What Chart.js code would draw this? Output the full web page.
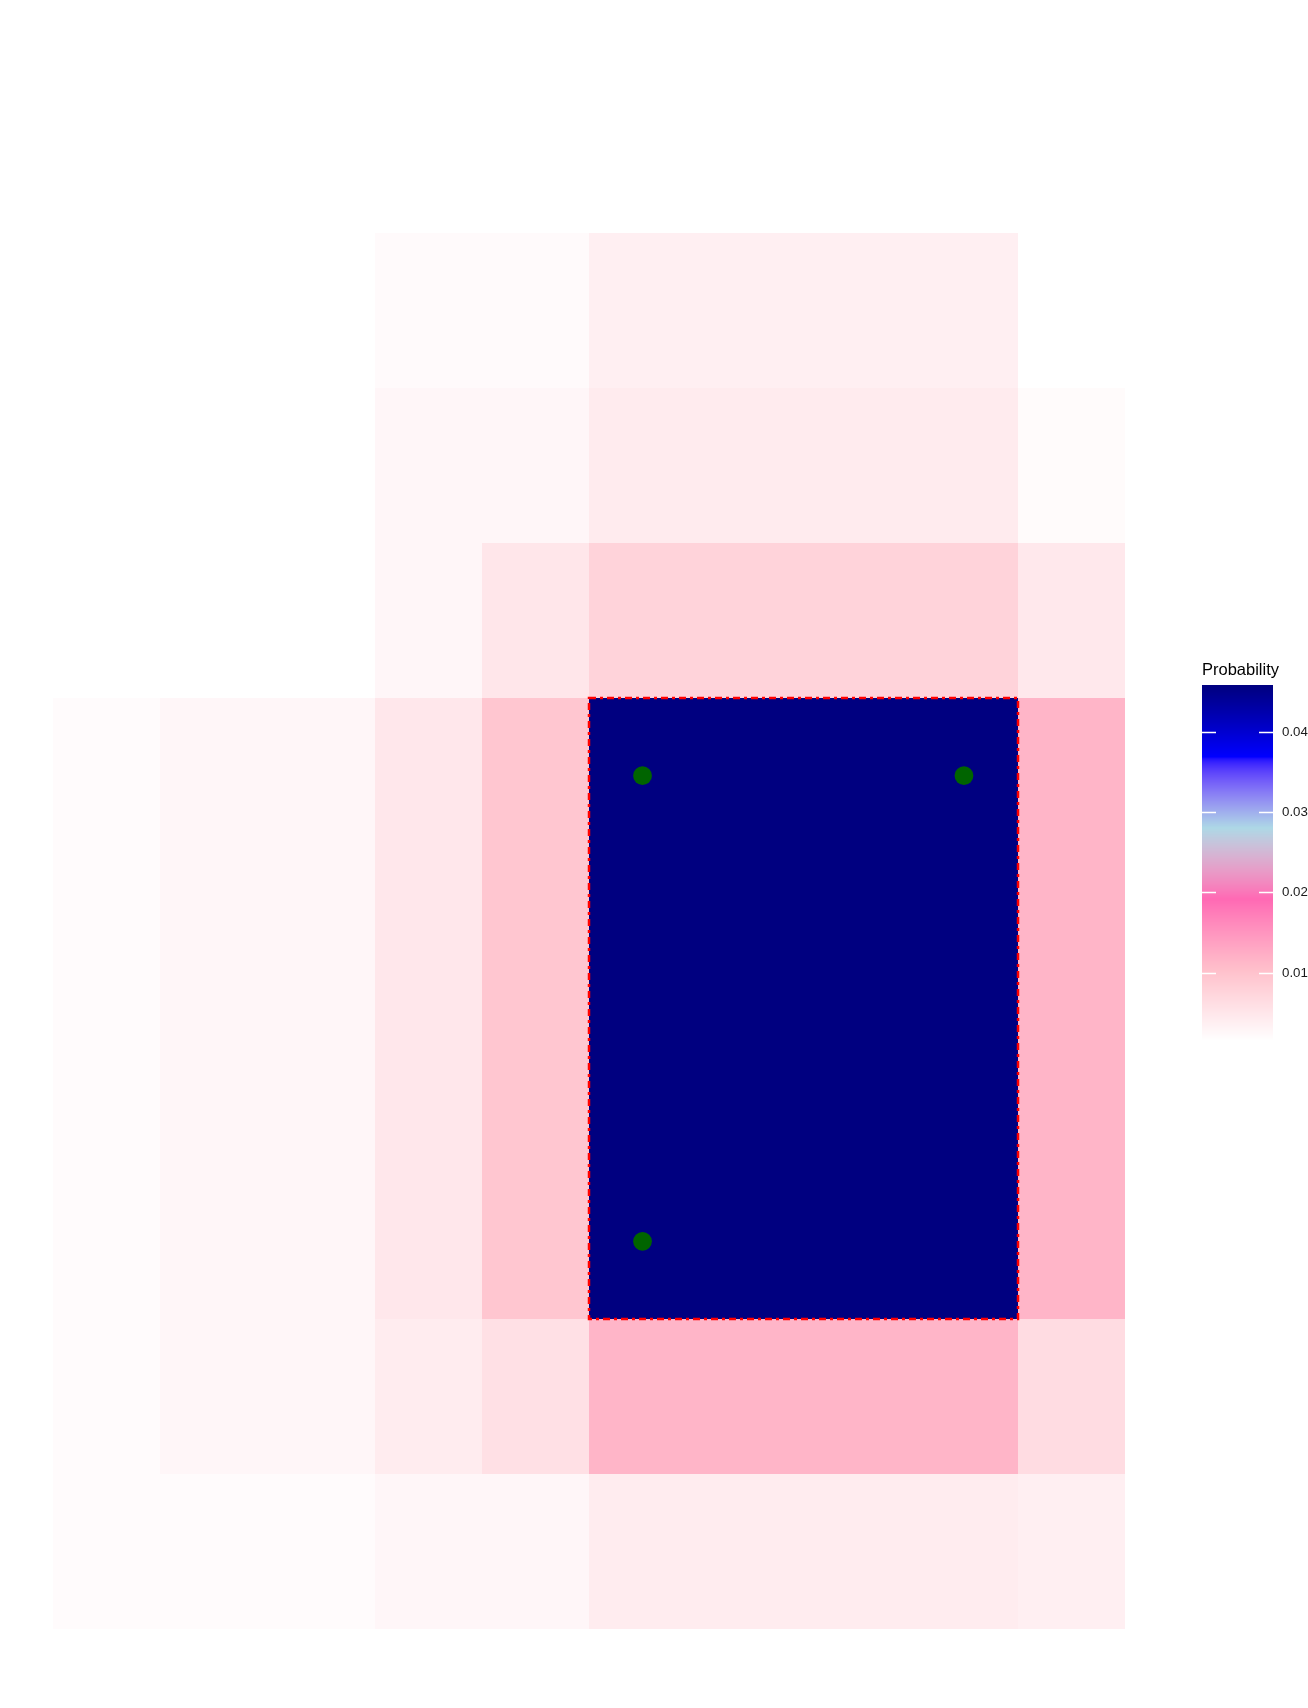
<!DOCTYPE html>
<html>
<head>
<meta charset="utf-8">
<script src="https://cdn.jsdelivr.net/npm/chart.js@4/dist/chart.umd.min.js"></script>
<style>
  html, body { margin: 0; padding: 0; background: #ffffff; }
  #wrap { width: 1308px; height: 1708px; }
</style>
</head>
<body>
<div id="wrap"><canvas id="c" width="1308" height="1708"></canvas></div>
<script>
// ---- data ----
const colEdges = [0, 1, 3, 4, 5, 9, 10];          // x bin edges
const rowEdges = [9, 8, 7, 6, 2, 1, 0];           // y bin edges, top to bottom
const probRow1 = [0.0016, 0.0016, 0.0023, 0.0023, 0.0038, 0.0016];
const probRow2 = [0.0016, 0.0016, 0.0028, 0.0028, 0.0044, 0.0022];
const probRow3 = [0.0016, 0.0016, 0.0028, 0.0051, 0.0078, 0.0048];
const probRow4 = [0.0021, 0.0028, 0.0050, 0.0096, 0.0458, 0.0117];
const probRow5 = [0.0021, 0.0028, 0.0043, 0.0059, 0.0117, 0.0065];
const probRow6 = [0.0021, 0.0021, 0.0028, 0.0028, 0.0043, 0.0038];
const probRows = [probRow1, probRow2, probRow3, probRow4, probRow5, probRow6];
const pointX = [5.5, 8.5, 5.5];
const pointY = [5.5, 5.5, 2.5];
const gradientColors = ['#FFFFFF', '#FFC0CB', '#FF69B4', '#ADD8E6', '#0000FF', '#000080'];
const legendTicks = [0.01, 0.02, 0.03, 0.04];
const legendTickLabels = ['0.01', '0.02', '0.03', '0.04'];
const legendTitle = 'Probability';

// ---- colour scale (Lab interpolation like ggplot) ----
function hexToRgb(h) { return [parseInt(h.slice(1,3),16), parseInt(h.slice(3,5),16), parseInt(h.slice(5,7),16)]; }
function srgbToLin(c) { c /= 255; return c <= 0.04045 ? c / 12.92 : Math.pow((c + 0.055) / 1.055, 2.4); }
function linToSrgb(c) { c = c <= 0.0031308 ? 12.92 * c : 1.055 * Math.pow(c, 1/2.4) - 0.055; return Math.max(0, Math.min(255, Math.round(c * 255))); }
const Xn = 0.95047, Yn = 1.0, Zn = 1.08883;
function f(t) { return t > 216/24389 ? Math.cbrt(t) : (24389/27 * t + 16) / 116; }
function finv(t) { return t*t*t > 216/24389 ? t*t*t : (116 * t - 16) / (24389/27); }
function rgbToLab(rgb) {
  const r = srgbToLin(rgb[0]), g = srgbToLin(rgb[1]), b = srgbToLin(rgb[2]);
  const X = 0.4124*r + 0.3576*g + 0.1805*b, Y = 0.2126*r + 0.7152*g + 0.0722*b, Z = 0.0193*r + 0.1192*g + 0.9505*b;
  const fx = f(X/Xn), fy = f(Y/Yn), fz = f(Z/Zn);
  return [116*fy - 16, 500*(fx - fy), 200*(fy - fz)];
}
function labToRgb(lab) {
  const fy = (lab[0] + 16) / 116, fx = fy + lab[1]/500, fz = fy - lab[2]/200;
  const X = Xn*finv(fx), Y = Yn*finv(fy), Z = Zn*finv(fz);
  const r = 3.2406*X - 1.5372*Y - 0.4986*Z, g = -0.9689*X + 1.8758*Y + 0.0415*Z, b = 0.0557*X - 0.2040*Y + 1.0570*Z;
  return [linToSrgb(r), linToSrgb(g), linToSrgb(b)];
}
const labStops = gradientColors.map(c => rgbToLab(hexToRgb(c)));
const allVals = probRows.flat().filter(v => v != null);
const vMin = Math.min(...allVals), vMax = Math.max(...allVals);
function colourFor(v) {
  let p = (v - vMin) / (vMax - vMin);
  p = Math.max(0, Math.min(1, p));
  const n = labStops.length - 1;
  let i = Math.min(n - 1, Math.floor(p * n));
  const t = p * n - i;
  const a = labStops[i], b = labStops[i + 1];
  const rgb = labToRgb([a[0] + (b[0]-a[0])*t, a[1] + (b[1]-a[1])*t, a[2] + (b[2]-a[2])*t]);
  return 'rgb(' + rgb.join(',') + ')';
}

// ---- plugins ----
const bgPlugin = {
  id: 'bg',
  beforeDraw(chart) {
    const ctx = chart.ctx;
    ctx.save(); ctx.fillStyle = '#ffffff'; ctx.fillRect(0, 0, chart.width, chart.height); ctx.restore();
  }
};

const cellsPlugin = {
  id: 'cells',
  beforeDatasetsDraw(chart) {
    const ctx = chart.ctx, xs = chart.scales.x, ys = chart.scales.y;
    ctx.save();
    let best = null;
    probRows.forEach((row, r) => {
      row.forEach((v, c) => {
        if (v == null) return;
        const x0 = Math.round(xs.getPixelForValue(colEdges[c]));
        const x1 = Math.round(xs.getPixelForValue(colEdges[c + 1]));
        const y0 = Math.round(ys.getPixelForValue(rowEdges[r]));
        const y1 = Math.round(ys.getPixelForValue(rowEdges[r + 1]));
        ctx.fillStyle = colourFor(v);
        ctx.fillRect(x0, y0, x1 - x0, y1 - y0);
        if (!best || v > best.v) best = { v, x0, x1, y0, y1 };
      });
    });
    // dashed outline of the most probable cell
    if (best) {
      ctx.strokeStyle = '#FF0000';
      ctx.lineWidth = 2.5;
      ctx.setLineDash([7, 4, 3, 4]);
      ctx.strokeRect(best.x0, best.y0, best.x1 - best.x0, best.y1 - best.y0);
      ctx.setLineDash([]);
    }
    ctx.restore();
  }
};

const colourbarPlugin = {
  id: 'colourbar',
  afterDraw(chart) {
    const ctx = chart.ctx;
    const bx = 1202, bw = 71, by = 685, bh = 355;
    ctx.save();
    const nbin = 355;
    for (let i = 0; i < nbin; i++) {
      const v = vMin + (vMax - vMin) * (i + 0.5) / nbin;
      ctx.fillStyle = colourFor(v);
      const yTop = by + bh - (i + 1) * bh / nbin;
      ctx.fillRect(bx, Math.floor(yTop), bw, Math.ceil(bh / nbin) + 1);
    }
    ctx.strokeStyle = '#ffffff';
    ctx.lineWidth = 1.3;
    ctx.fillStyle = '#1a1a1a';
    ctx.font = '13.3px "Liberation Sans", Arial, sans-serif';
    ctx.textBaseline = 'middle';
    ctx.textAlign = 'left';
    legendTicks.forEach((t, k) => {
      const y = Math.round(by + bh - (t - vMin) / (vMax - vMin) * bh) + 0.5;
      ctx.beginPath();
      ctx.moveTo(bx, y); ctx.lineTo(bx + 14, y);
      ctx.moveTo(bx + bw - 14, y); ctx.lineTo(bx + bw, y);
      ctx.stroke();
      ctx.fillText(legendTickLabels[k], 1282, y);
    });
    ctx.fillStyle = '#000000';
    ctx.font = '16.5px "Liberation Sans", Arial, sans-serif';
    ctx.textBaseline = 'alphabetic';
    ctx.fillText(legendTitle, 1202, 675);
    ctx.restore();
  }
};

new Chart(document.getElementById('c'), {
  type: 'scatter',
  data: {
    datasets: [{
      data: pointX.map((x, i) => ({ x, y: pointY[i] })),
      pointRadius: 9.4,
      pointHoverRadius: 9.4,
      backgroundColor: '#006400',
      borderColor: '#006400',
      borderWidth: 0
    }]
  },
  options: {
    responsive: false,
    animation: false,
    devicePixelRatio: 1,
    layout: { padding: { left: 53.2, right: 183.3, top: 232.5, bottom: 78.7 } },
    plugins: { legend: { display: false }, tooltip: { enabled: false } },
    events: [],
    scales: {
      x: { type: 'linear', min: 0, max: 10, display: false },
      y: { type: 'linear', min: 0, max: 9, display: false }
    }
  },
  plugins: [bgPlugin, cellsPlugin, colourbarPlugin]
});
</script>
</body>
</html>
